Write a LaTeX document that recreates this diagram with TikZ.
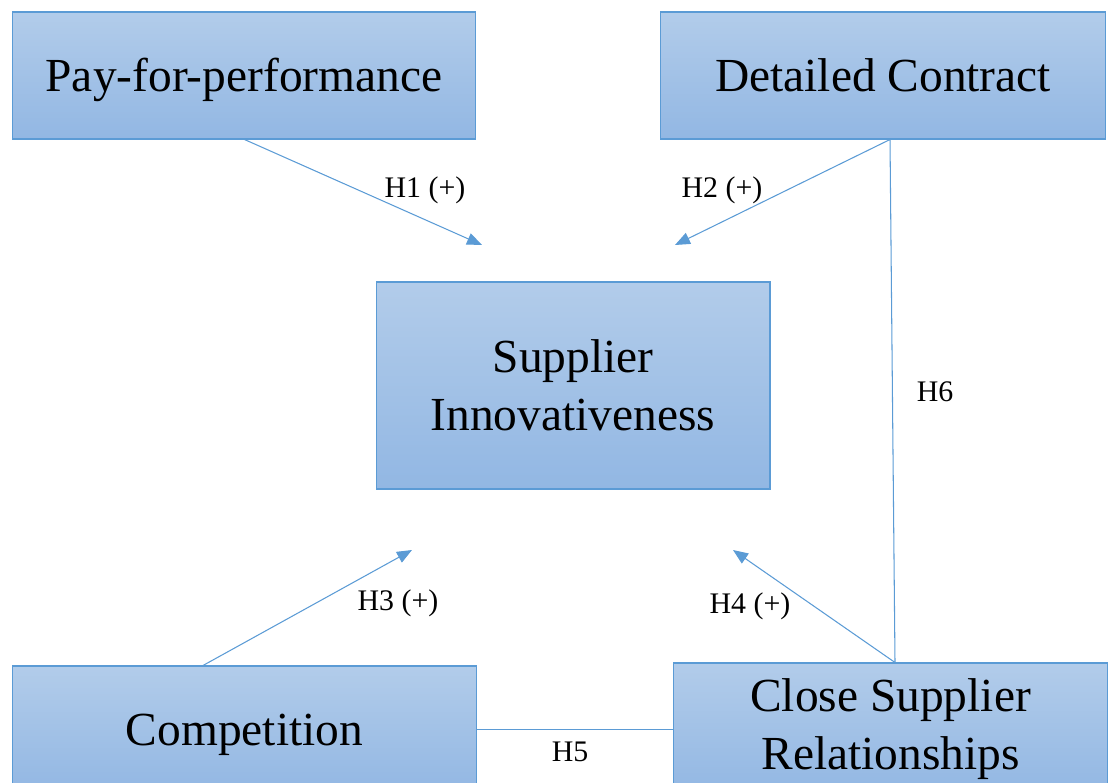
\documentclass[tikz,border=0pt]{standalone}
\usepackage{fontspec}
\setmainfont{Liberation Serif}
\usetikzlibrary{arrows.meta,positioning}

\definecolor{boxline}{RGB}{91,155,213}
\definecolor{boxtop}{RGB}{178,204,234}
\definecolor{boxbot}{RGB}{146,183,227}

\tikzset{
  construct/.style={draw=boxline, line width=0.6pt, top color=boxtop,
    bottom color=boxbot, align=center, inner sep=0pt,
    font=\fontsize{27}{33}\selectfont},
  oneline/.style={text height=18pt, text depth=0pt},
  hyp/.style={draw=boxline, line width=0.6pt,
    -{Triangle[length=0.3cm,width=0.24cm]}},
  link/.style={draw=boxline, line width=0.6pt},
  hlabel/.style={inner sep=0pt, font=\fontsize{17}{20}\selectfont}
}

\begin{document}
\begin{tikzpicture}[x=0.02cm,y=-0.02cm]
  \useasboundingbox (0,0) rectangle (1108,783);
  \clip (0,0) rectangle (1108,783);

  %Define nodes
  \node[construct, oneline, minimum width=9.28cm, minimum height=2.54cm]
    (pay) at (244,75.5) {Pay-for-performance};
  \node[construct, oneline, minimum width=8.9cm, minimum height=2.54cm]
    (contract) at (883,75.5) {Detailed Contract};
  \node[construct, minimum width=7.88cm, minimum height=4.14cm]
    (innov) at (573,385.5) {Supplier\\Innovativeness};
  \node[construct, oneline, minimum width=9.3cm, minimum height=2.54cm]
    (comp) at (244.5,729.5) {Competition};
  \node[construct, minimum width=8.7cm, minimum height=2.64cm]
    (csr) at (890.5,729) {Close Supplier\\Relationships};

  % Arrow ends
  \coordinate (h1end) at (482,245);
  \coordinate (h2end) at (675,245);
  \coordinate (h3end) at (412,550);
  \coordinate (h4end) at (733,550);

  % Connect the nodes
  \draw[hyp] (pay.south) ++(0.5,0) -- (h1end);
  \draw[hyp] ([xshift=0.14cm]contract.south) -- (h2end);
  \draw[hyp] ([xshift=-0.83cm]comp.north) -- (h3end);
  \draw[hyp] ([xshift=0.09cm]csr.north) -- (h4end);
  \draw[link] (comp.east) -- (comp.east -| csr.west);
  \draw[link] ([xshift=0.14cm]contract.south) -- ([xshift=0.09cm]csr.north);

  % Labels
  \node[hlabel] (h1) at (425,190) {H1 (+)};
  \node[hlabel] (h2) at (722,190) {H2 (+)};
  \node[hlabel] (h3) at (398,603) {H3 (+)};
  \node[hlabel] (h4) at (750,606) {H4 (+)};
  \node[hlabel] (h5) at (570,752) {H5};
  \node[hlabel] (h6) at (935,392) {H6};

\end{tikzpicture}
\end{document}
